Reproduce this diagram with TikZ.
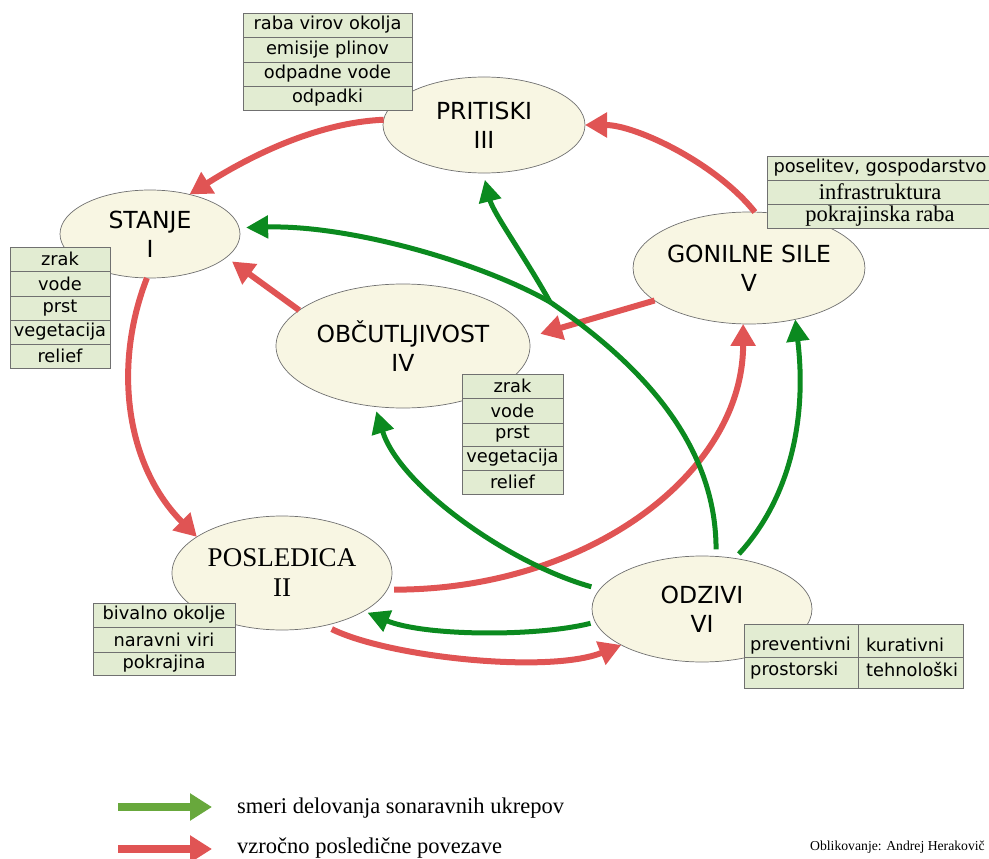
\documentclass[tikz,border=0pt]{standalone}
\usepackage{fontspec}
\setmainfont{DejaVu Sans}
\newfontfamily\tms{Liberation Serif}
\usetikzlibrary{arrows.meta,shapes.geometric}
\definecolor{redA}{HTML}{E05454}
\definecolor{greenA}{HTML}{0B8A1F}
\definecolor{greenL}{HTML}{68A83C}
\definecolor{cream}{HTML}{F8F6E3}
\definecolor{cellg}{HTML}{E2ECD2}
\definecolor{edgeg}{HTML}{707070}
\begin{document}
\begin{tikzpicture}[x=1pt,y=-1pt,
  ell/.style={ellipse, draw=edgeg, line width=0.7pt, fill=cream, inner sep=0pt, outer sep=0pt, align=center, font=\fontsize{23.5}{29}\selectfont},
  cell/.style={rectangle, draw=edgeg, line width=0.8pt, fill=cellg, inner sep=0pt, font=\fontsize{17.8}{20}\selectfont},
  celltxt/.style={anchor=base west, inner sep=0pt, font=\fontsize{17.8}{20}\selectfont},
  redarr/.style={draw=redA, line width=6pt, -{Triangle[length=22pt,width=24pt]}},
  grnline/.style={draw=greenA, line width=5pt},
  grnarr/.style={grnline, -{Triangle[length=22pt,width=22pt]}},
  legtxt/.style={anchor=base west, inner sep=0pt, font=\tms\fontsize{22.5}{25}\selectfont}
]
\useasboundingbox (0,0) rectangle (989,859);
\clip (0,0) rectangle (989,859);

% ellipses
\node[ell, minimum width=202pt, minimum height=96pt] (pr) at (484,125) {PRITISKI\\III};
\node[ell, minimum width=180pt, minimum height=88pt] (st) at (150,234) {STANJE\\I};
\node[ell, minimum width=228pt, minimum height=112pt] (go) at (749,268) {GONILNE SILE\\V};
\node[ell, minimum width=254pt, minimum height=124pt] (ob) at (403,346) {OBČUTLJIVOST\\IV};
\node[ell, minimum width=220pt, minimum height=114pt, font=\tms\fontsize{27}{30}\selectfont] (po) at (282,573) {POSLEDICA\\II};
\node[ell, minimum width=220pt, minimum height=106pt] (od) at (702,609) {ODZIVI\\VI};

% red connectors
\draw[redarr] (pr.177) .. controls +(-70,3) and +(55,-35) .. (st.45);
\draw[redarr] (go.84) .. controls +(-40,-50) and +(50,0) .. (pr.east);
\draw[redarr, shorten >=7pt] (ob.161) -- (st.-17);
\draw[redarr, shorten >=12pt] (go.199) -- (ob.4);
\draw[redarr] (st.266) .. controls +(-35,90) and +(-70,-70) .. (po.157);
\draw[redarr, shorten <=7pt] (po.-9) .. controls +(200,0) and +(0,150) .. (go.264);
\draw[redarr, shorten <=8pt] (po.-51) .. controls +(65,32) and +(-72,29) .. (od.204);

% green connectors
\coordinate (fork) at (550,302);
\draw[grnline, shorten <=7pt] (od.75) .. controls +(0,-120) and +(80,55) .. (fork);
\draw[grnarr, shorten >=7pt] (fork) .. controls +(-70,-40) and +(110,-3) .. (st.4);
\draw[grnarr, shorten >=7pt] (fork) .. controls +(-25,-45) and +(10,40) .. (pr.269);
\draw[grnarr, shorten <=9pt, shorten >=5pt] (od.169) .. controls +(-90,-25) and +(25,80) .. (ob.245);
\draw[grnarr, shorten <=5pt, shorten >=4pt] (od.187) .. controls +(-60,15) and +(60,25) .. (po.-25);
\draw[grnarr, shorten <=6pt] (od.57) .. controls +(55,-60) and +(12,100) .. (go.-48);

% table PRITISKI
\node[cell, minimum width=169pt, minimum height=24pt] (p1) at (327.5,25) {raba virov okolja};
\node[cell, minimum width=169pt, minimum height=25pt] (p2) at (327.5,49.5) {emisije plinov};
\node[cell, minimum width=169pt, minimum height=24pt] (p3) at (327.5,74) {odpadne vode};
\node[cell, minimum width=169pt, minimum height=24pt] (p4) at (327.5,98) {odpadki};

% table STANJE
\node[cell, minimum width=100pt, minimum height=24pt] (s1) at (60,259) {zrak};
\node[cell, minimum width=100pt, minimum height=25pt] (s2) at (60,283.5) {vode};
\node[cell, minimum width=100pt, minimum height=24pt] (s3) at (60,308) {prst};
\node[cell, minimum width=100pt, minimum height=24pt] (s4) at (60,332) {vegetacija};
\node[cell, minimum width=100pt, minimum height=24pt] (s5) at (60,356) {relief};

% table OBCUTLJIVOST
\node[cell, minimum width=101pt, minimum height=24pt] (o1) at (512.5,386) {zrak};
\node[cell, minimum width=101pt, minimum height=25pt] (o2) at (512.5,410.5) {vode};
\node[cell, minimum width=101pt, minimum height=23pt] (o3) at (512.5,434.5) {prst};
\node[cell, minimum width=101pt, minimum height=24pt] (o4) at (512.5,458) {vegetacija};
\node[cell, minimum width=101pt, minimum height=24pt] (o5) at (512.5,482) {relief};

% table GONILNE SILE
\node[cell, minimum width=226pt, minimum height=24pt] (g1) at (880,168) {poselitev, gospodarstvo};
\node[cell, minimum width=226pt, minimum height=24pt, font=\tms\fontsize{22.5}{24}\selectfont] (g2) at (880,192) {infrastruktura};
\node[cell, minimum width=226pt, minimum height=24pt, font=\tms\fontsize{22.5}{24}\selectfont] (g3) at (880,216) {pokrajinska raba};

% table POSLEDICA
\node[cell, minimum width=142pt, minimum height=24pt] (q1) at (164,615) {bivalno okolje};
\node[cell, minimum width=142pt, minimum height=25pt] (q2) at (164,639.5) {naravni viri};
\node[cell, minimum width=142pt, minimum height=23pt] (q3) at (164,663.5) {pokrajina};

% table ODZIVI
\node[cell, minimum width=114pt, minimum height=33pt] (d1) at (801,640.5) {};
\node[cell, minimum width=105pt, minimum height=33pt] (d2) at (910.5,640.5) {};
\node[cell, minimum width=114pt, minimum height=31pt] (d3) at (801,672.5) {};
\node[cell, minimum width=105pt, minimum height=31pt] (d4) at (910.5,672.5) {};
\node[celltxt] (d1t) at (750,650) {preventivni};
\node[celltxt] (d2t) at (866,651) {kurativni};
\node[celltxt] (d3t) at (750,675) {prostorski};
\node[celltxt] (d4t) at (866,676) {tehnološki};

% legend
\coordinate (lg1s) at (118,807);
\coordinate (lg1e) at (212,807);
\coordinate (lg2s) at (118,849);
\coordinate (lg2e) at (212,849);
\draw[draw=greenL, line width=8pt, -{Triangle[length=22pt,width=26pt]}] (lg1s) -- (lg1e);
\draw[draw=redA, line width=8pt, -{Triangle[length=22pt,width=26pt]}] (lg2s) -- (lg2e);
\node[legtxt] (lt1) at (237,813) {smeri delovanja sonaravnih ukrepov};
\node[legtxt] (lt2) at (237,853) {vzročno posledične povezave};
\node[anchor=base east, inner sep=0pt, font=\tms\fontsize{13.7}{15}\selectfont] (credit) at (985,850) {Oblikovanje: Andrej Herakovič};
\end{tikzpicture}
\end{document}
